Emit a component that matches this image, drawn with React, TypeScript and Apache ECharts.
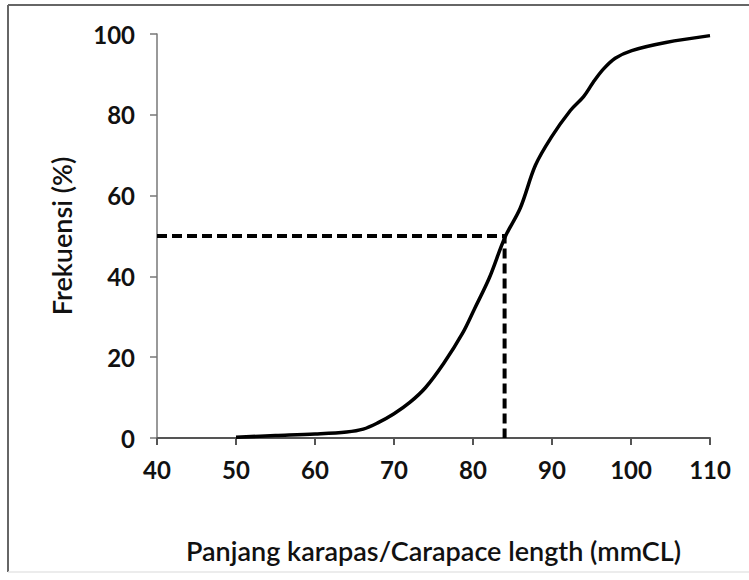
import React, { useEffect, useRef } from "react";
import * as echarts from "echarts";

const lengths = [50, 55, 60, 64, 66.1, 68, 70, 72, 74, 76.3, 78.7, 80.2, 82.1, 84.05, 86, 87.9, 89.9, 92.3, 94, 95.2, 96.5, 98, 100.1, 104.4, 110];
const freq = [0.2, 0.6, 1.0, 1.5, 2.2, 3.8, 6.0, 8.8, 12.5, 18.5, 26, 32, 39.8, 49.7, 57, 67.5, 74.4, 81, 84.5, 88, 91.3, 94, 95.9, 97.9, 99.6];
const l50X = [40, 84, 84];
const l50Y = [50, 50, 0];
const xTicks = [40, 50, 60, 70, 80, 90, 100, 110];
const yTicks = [0, 20, 40, 60, 80, 100];

export default function App() {
  const ref = useRef<HTMLDivElement>(null);
  useEffect(() => {
    if (!ref.current) return;
    const chart = echarts.init(ref.current, undefined, { renderer: "svg" });
    const font = "Lato, 'Open Sans', sans-serif";
    chart.setOption({
      animation: false,
      backgroundColor: "#fff",
      graphic: [
        { type: "line", shape: { x1: 8, y1: 5, x2: 749, y2: 5 }, style: { stroke: "#666", lineWidth: 2 }, silent: true },
        { type: "line", shape: { x1: 8, y1: 5, x2: 8, y2: 572 }, style: { stroke: "#666", lineWidth: 2 }, silent: true },
        { type: "line", shape: { x1: 8, y1: 572, x2: 749, y2: 572 }, style: { stroke: "#e6e6e6", lineWidth: 1.5 }, silent: true },
      ],
      grid: { left: 157, right: 39, top: 34, bottom: 142, containLabel: false },
      xAxis: {
        type: "value",
        min: xTicks[0],
        max: xTicks[xTicks.length - 1],
        interval: 10,
        name: "Panjang karapas/Carapace length (mmCL)",
        nameLocation: "middle",
        nameGap: 99,
        nameTextStyle: { fontFamily: font, fontSize: 27, color: "#111", fontWeight: 600 },
        axisLine: { show: true, onZero: false, lineStyle: { color: "#555", width: 2 } },
        axisTick: { show: true, inside: false, length: 7, lineStyle: { color: "#555", width: 2 } },
        axisLabel: { fontFamily: font, fontSize: 24, fontWeight: "bold", color: "#111", margin: 19 },
        splitLine: { show: false },
      },
      yAxis: {
        type: "value",
        min: yTicks[0],
        max: yTicks[yTicks.length - 1],
        interval: 20,
        name: "Frekuensi (%)",
        nameLocation: "middle",
        nameGap: 82,
        nameTextStyle: { fontFamily: font, fontSize: 27, color: "#111", fontWeight: 600 },
        axisLine: { show: true, lineStyle: { color: "#777", width: 1.5 } },
        axisTick: { show: true, inside: false, length: 7, lineStyle: { color: "#777", width: 1.5 } },
        axisLabel: { fontFamily: font, fontSize: 24, fontWeight: "bold", color: "#111", margin: 22 },
        splitLine: { show: false },
      },
      series: [
        {
          type: "line",
          data: l50X.map((x, i) => [x, l50Y[i]]),
          showSymbol: false,
          lineStyle: { color: "#000", width: 4, type: [10, 5] },
          z: 2,
        },
        {
          type: "line",
          smooth: 0.35,
          data: lengths.map((x, i) => [x, freq[i]]),
          showSymbol: false,
          lineStyle: { color: "#000", width: 3.5 },
          z: 3,
        },
      ],
    });
    return () => chart.dispose();
  }, []);
  return <div ref={ref} style={{ width: 749, height: 580, position: "absolute", left: 0, top: 0 }} />;
}
